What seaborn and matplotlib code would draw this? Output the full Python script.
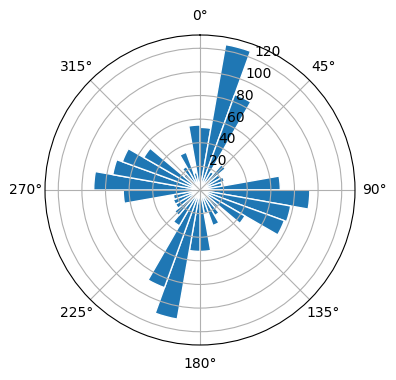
import numpy as np
import matplotlib.pyplot as plt
import seaborn as sns

# direction bins: left edge in degrees, 10 degree wide
bin_starts = np.arange(0, 360, 10)
bin_width = 10
counts = [53, 125, 86, 18, 28, 20, 22, 19, 68, 93, 78, 76,
          44, 20, 25, 32, 20, 52, 52, 111, 88, 35, 28, 24,
          24, 23, 65, 90, 75, 70, 55, 18, 23, 34, 15, 55]

bar_color = sns.color_palette("tab10")[0]

fig = plt.figure(figsize=(3.96, 3.8), dpi=100)
ax = fig.add_axes([45 / 396, 35 / 380, 310 / 396, 310 / 380], projection="polar")
ax.set_theta_zero_location("N")
ax.set_theta_direction(-1)

ax.bar(np.deg2rad(bin_starts), counts, width=np.deg2rad(bin_width),
       align="edge", bottom=0.0, color=bar_color, edgecolor="white")

plt.savefig("out.png", dpi=100)
